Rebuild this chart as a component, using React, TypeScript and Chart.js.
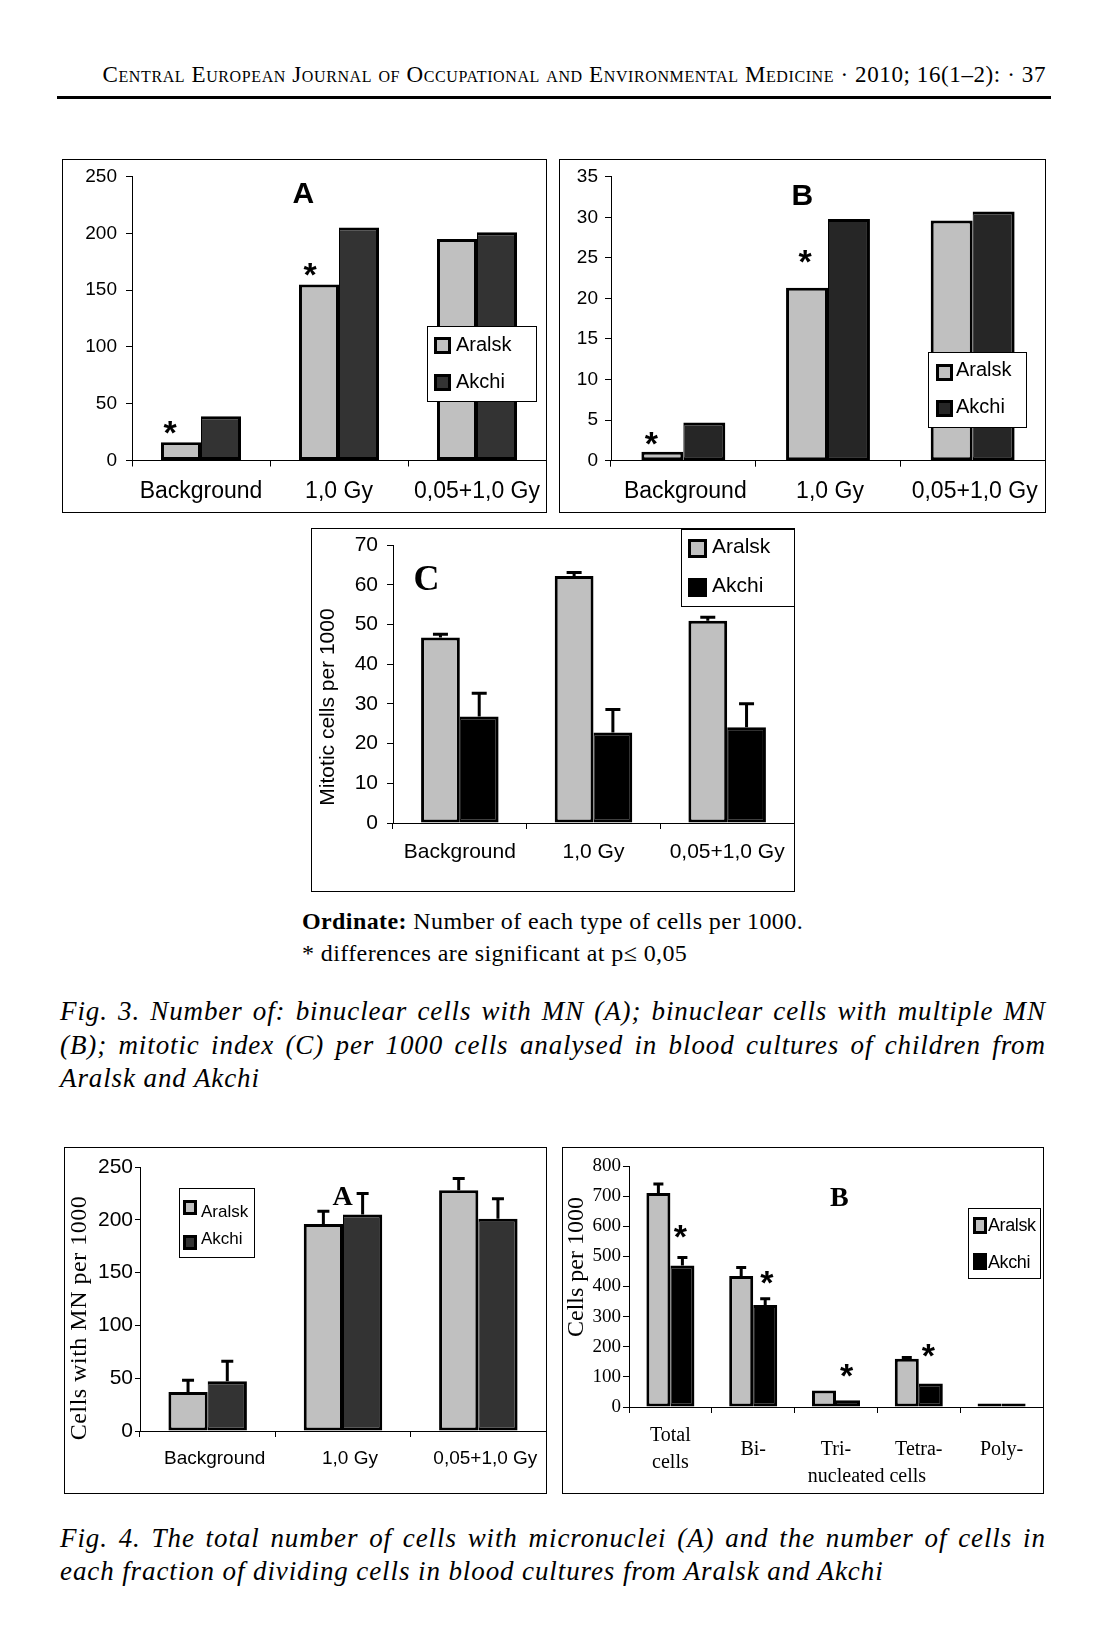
import React, { useEffect, useRef } from "react";
import { Chart, registerables } from "chart.js";

Chart.register(...registerables);
Chart.defaults.color = "#000";

const SANS = '"Liberation Sans", Arial, sans-serif';
const SERIF = '"Liberation Serif", "Times New Roman", serif';

// ---------- DATA ----------
const doseLabels = ["Background", "1,0 Gy", "0,05+1,0 Gy"];
const seriesNames = ["Aralsk", "Akchi"];

const fig3A_aralsk = [16, 155, 195];
const fig3A_akchi = [39, 205, 201];

const fig3B_aralsk = [1.1, 21.3, 29.6];
const fig3B_akchi = [4.7, 29.8, 30.7];

const fig3C_aralsk = [46.7, 62.2, 50.9];
const fig3C_akchi = [26.8, 22.8, 24.1];
const fig3C_aralskErr = [0.8, 0.9, 0.9];
const fig3C_akchiErr = [5.9, 5.8, 5.9];

const fig4A_aralsk = [37, 196, 228];
const fig4A_akchi = [47, 205, 201];
const fig4A_aralskErr = [11, 12, 11];
const fig4A_akchiErr = [19, 20, 19];

const fractionLabels: (string | string[])[] = [["Total", "cells"], "Bi-", "Tri-", "Tetra-", "Poly-"];
const fig4B_aralsk = [710, 435, 55, 160, 12];
const fig4B_akchi = [470, 339, 22, 78, 12];
const fig4B_aralskErr = [30, 28, 0, 4, 0];
const fig4B_akchiErr = [26, 20, 0, 0, 0];

// significance markers: [datasetIndex, categoryIndex]
const fig3A_stars = [[0, 0], [0, 1]];
const fig3B_stars = [[0, 0], [0, 1]];
const fig4B_stars = [[1, 0], [1, 1], [1, 2], [1, 3]];

const yTicks3A = { max: 250, step: 50 };
const yTicks3B = { max: 35, step: 5 };
const yTicks3C = { max: 70, step: 10 };
const yTicks4A = { max: 250, step: 50 };
const yTicks4B = { max: 800, step: 100 };

// ---------- STYLE / LAYOUT ----------
type Series = { label: string; data: number[]; err?: number[]; color: string; bw: any };
type Cfg = {
  box: { l: number; t: number; r: number; b: number };
  plot: { l: number; t: number; b: number };
  labels: any[];
  series: Series[];
  y: { max: number; step: number; font: string; size: number; pad: number; tick: number };
  x: { font: string; size: number; pad: number; lh?: number; offset?: number; cross?: string };
  err?: { w: number; cap: number };
  stars?: { ds: number; i: number; dx: number; dy: number }[];
  title: { text: string; x: number; y: number; font: string };
  yTitle?: { text: string; x: number; y: number; font: string; spacing?: number };
  legend: { box: number[]; font: string; spacing?: number; items: { name: string; color: string; sw: number[]; tx: number; ty: number }[] };
  extra?: { text: string; x: number; y: number; font: string }[];
};

function inkCenter(ctx: CanvasRenderingContext2D, text: string, cx: number, cy: number) {
  const m = ctx.measureText(text);
  const asc = m.actualBoundingBoxAscent;
  const desc = m.actualBoundingBoxDescent;
  const left = m.actualBoundingBoxLeft;
  const right = m.actualBoundingBoxRight;
  ctx.textAlign = "left";
  ctx.textBaseline = "alphabetic";
  ctx.fillText(text, cx - (right - left) / 2, cy + (asc - desc) / 2);
}

function decorPlugin(cfg: Cfg) {
  const ox = cfg.box.l + 1;
  const oy = cfg.box.t + 1;
  return {
    id: "decor",
    afterDatasetsDraw(chart: any) {
      const ctx: CanvasRenderingContext2D = chart.ctx;
      const ys = chart.scales.y;
      ctx.save();
      // error bars
      if (cfg.err) {
        cfg.series.forEach((s, d) => {
          if (!s.err) return;
          const meta = chart.getDatasetMeta(d);
          meta.data.forEach((el: any, i: number) => {
            const e = s.err![i];
            if (!e) return;
            const top = ys.getPixelForValue(s.data[i] + e);
            ctx.strokeStyle = "#000";
            ctx.lineWidth = cfg.err!.w;
            ctx.lineCap = "butt";
            ctx.beginPath();
            ctx.moveTo(el.x, el.y);
            ctx.lineTo(el.x, top);
            ctx.moveTo(el.x - cfg.err!.cap, top);
            ctx.lineTo(el.x + cfg.err!.cap, top);
            ctx.stroke();
          });
        });
      }
      // stars
      ctx.fillStyle = "#000";
      (cfg.stars || []).forEach((st) => {
        const s = cfg.series[st.ds];
        const el = chart.getDatasetMeta(st.ds).data[st.i];
        const v = s.data[st.i] + (s.err ? s.err[st.i] || 0 : 0);
        const yTop = ys.getPixelForValue(v);
        ctx.font = `bold 34px ${SANS}`;
        inkCenter(ctx, "*", el.x + st.dx, yTop + st.dy);
      });
      // panel title
      ctx.font = cfg.title.font;
      inkCenter(ctx, cfg.title.text, cfg.title.x - ox, cfg.title.y - oy);
      // y axis title
      if (cfg.yTitle) {
        const t = cfg.yTitle;
        ctx.save();
        ctx.translate(t.x - ox, t.y - oy);
        ctx.rotate(-Math.PI / 2);
        ctx.font = t.font;
        (ctx as any).letterSpacing = (t.spacing || 0) + "px";
        ctx.textAlign = "center";
        ctx.textBaseline = "middle";
        ctx.fillText(t.text, 0, 0);
        ctx.restore();
      }
      // extra texts
      (cfg.extra || []).forEach((t) => {
        ctx.font = t.font;
        ctx.textAlign = "center";
        ctx.textBaseline = "middle";
        ctx.fillText(t.text, t.x - ox, t.y - oy);
      });
      // legend
      const L = cfg.legend;
      const [bl, bt, br, bb] = L.box;
      ctx.fillStyle = "#fff";
      ctx.fillRect(bl - ox, bt - oy, br - bl + 1, bb - bt + 1);
      ctx.strokeStyle = "#000";
      ctx.lineWidth = 1;
      ctx.strokeRect(bl - ox + 0.5, bt - oy + 0.5, br - bl, bb - bt);
      L.items.forEach((it) => {
        const [sl, stp, sr, sb] = it.sw;
        ctx.fillStyle = "#000";
        ctx.fillRect(sl - ox, stp - oy, sr - sl, sb - stp);
        ctx.fillStyle = it.color;
        ctx.fillRect(sl - ox + 3, stp - oy + 3, sr - sl - 6, sb - stp - 6);
        ctx.fillStyle = "#000";
        ctx.font = L.font;
        (ctx as any).letterSpacing = (L.spacing || 0) + "px";
        ctx.textAlign = "left";
        ctx.textBaseline = "middle";
        ctx.fillText(it.name, it.tx - ox, it.ty - oy);
        (ctx as any).letterSpacing = "0px";
      });
      ctx.restore();
    },
  };
}

function buildConfig(cfg: Cfg): any {
  const H = cfg.box.b - cfg.box.t - 1;
  const ox = cfg.box.l + 1;
  const oy = cfg.box.t + 1;
  const yWidth = cfg.plot.l - ox;
  const padTop = cfg.plot.t - oy;
  const xHeight = oy + H - cfg.plot.b;
  return {
    type: "bar",
    data: {
      labels: cfg.labels,
      datasets: cfg.series.map((s) => ({
        label: s.label,
        data: s.data,
        backgroundColor: s.color,
        borderColor: "#000",
        borderWidth: s.bw,
        borderSkipped: false,
        categoryPercentage: 0.58,
        barPercentage: 1.0,
      })),
    },
    options: {
      responsive: false,
      animation: false,
      devicePixelRatio: 1,
      layout: { padding: { top: padTop, right: 0, bottom: 0, left: 0 } },
      plugins: { legend: { display: false }, tooltip: { enabled: false }, title: { display: false } },
      scales: {
        x: {
          type: "category",
          offset: true,
          grid: { display: true, offset: true, drawOnChartArea: false, drawTicks: true, tickLength: 6, color: "#000", lineWidth: 1 },
          border: { display: true, color: "#000", width: 1 },
          ticks: {
            color: "#000",
            maxRotation: 0,
            minRotation: 0,
            autoSkip: false,
            padding: cfg.x.pad,
            labelOffset: cfg.x.offset || 0,
            crossAlign: cfg.x.cross || "near",
            font: { family: cfg.x.font, size: cfg.x.size, lineHeight: cfg.x.lh || 1.2 },
          },
          afterFit: (s: any) => {
            s.height = xHeight;
            s.paddingLeft = 0;
            s.paddingRight = 0;
          },
        },
        y: {
          min: 0,
          max: cfg.y.max,
          grid: { display: true, drawOnChartArea: false, drawTicks: true, tickLength: cfg.y.tick, color: "#000", lineWidth: 1 },
          border: { display: true, color: "#000", width: 1 },
          ticks: {
            stepSize: cfg.y.step,
            color: "#000",
            padding: cfg.y.pad,
            font: { family: cfg.y.font, size: cfg.y.size },
          },
          afterFit: (s: any) => {
            s.width = yWidth;
            s.paddingTop = 0;
            s.paddingBottom = 0;
          },
        },
      },
    },
    plugins: [decorPlugin(cfg)],
  };
}

function Panel({ cfg }: { cfg: Cfg }) {
  const ref = useRef<HTMLCanvasElement>(null);
  const W = cfg.box.r - cfg.box.l - 1;
  const H = cfg.box.b - cfg.box.t - 1;
  useEffect(() => {
    const chart = new Chart(ref.current!, buildConfig(cfg));
    return () => chart.destroy();
  }, []);
  return (
    <div
      style={{
        position: "absolute",
        left: cfg.box.l,
        top: cfg.box.t,
        width: cfg.box.r - cfg.box.l + 1,
        height: cfg.box.b - cfg.box.t + 1,
        border: "1px solid #000",
        boxSizing: "border-box",
        background: "#fff",
      }}
    >
      <canvas ref={ref} width={W} height={H} style={{ display: "block", width: W, height: H }} />
    </div>
  );
}

const ARALSK = "#c0c0c0";
const BW_L = { top: 3, left: 3, right: 3, bottom: 3 };
const BW_R = { top: 3, left: 1, right: 3, bottom: 3 };

const cfg3A: Cfg = {
  box: { l: 62, t: 159, r: 546, b: 512 },
  plot: { l: 132, t: 176.5, b: 460.5 },
  labels: doseLabels,
  series: [
    { label: seriesNames[0], data: fig3A_aralsk, color: ARALSK, bw: BW_L },
    { label: seriesNames[1], data: fig3A_akchi, color: "#333333", bw: BW_R },
  ],
  y: { ...yTicks3A, font: SANS, size: 19, pad: 9, tick: 6 },
  x: { font: SANS, size: 23, pad: 11 },
  stars: fig3A_stars.map(([ds, i], k) => ({ ds, i, dx: [-10.4, -8.4][k], dy: [-14.7, -15][k] })),
  title: { text: "A", x: 303, y: 193, font: `bold 30px ${SANS}` },
  legend: {
    box: [427, 326, 536, 401],
    font: `20px ${SANS}`,
    items: [
      { name: seriesNames[0], color: ARALSK, sw: [434, 337, 451, 354], tx: 456, ty: 345 },
      { name: seriesNames[1], color: "#333333", sw: [434, 374, 451, 391], tx: 456, ty: 382 },
    ],
  },
};

const cfg3B: Cfg = {
  box: { l: 559, t: 159, r: 1045, b: 512 },
  plot: { l: 611, t: 176.7, b: 460.7 },
  labels: doseLabels,
  series: [
    { label: seriesNames[0], data: fig3B_aralsk, color: ARALSK, bw: BW_L },
    { label: seriesNames[1], data: fig3B_akchi, color: "#262626", bw: BW_R },
  ],
  y: { ...yTicks3B, font: SANS, size: 19, pad: 7, tick: 6 },
  x: { font: SANS, size: 23, pad: 11, offset: 2 },
  stars: fig3B_stars.map(([ds, i], k) => ({ ds, i, dx: [-10.5, -1.5][k], dy: [-13, -31][k] })),
  title: { text: "B", x: 803, y: 195, font: `bold 30px ${SANS}` },
  legend: {
    box: [928, 352, 1026, 427],
    font: `20px ${SANS}`,
    items: [
      { name: seriesNames[0], color: ARALSK, sw: [936, 364, 953, 381], tx: 956, ty: 370 },
      { name: seriesNames[1], color: "#262626", sw: [936, 400, 953, 417], tx: 956, ty: 407 },
    ],
  },
};

const cfg3C: Cfg = {
  box: { l: 311, t: 528, r: 794, b: 891 },
  plot: { l: 393, t: 545, b: 823 },
  labels: doseLabels,
  series: [
    { label: seriesNames[0], data: fig3C_aralsk, err: fig3C_aralskErr, color: ARALSK, bw: BW_L },
    { label: seriesNames[1], data: fig3C_akchi, err: fig3C_akchiErr, color: "#000000", bw: BW_R },
  ],
  y: { ...yTicks3C, font: SANS, size: 21, pad: 9, tick: 6 },
  x: { font: SANS, size: 21, pad: 11 },
  err: { w: 3, cap: 7.5 },
  title: { text: "C", x: 426, y: 578, font: `bold 36px ${SERIF}` },
  yTitle: { text: "Mitotic cells per 1000", x: 328, y: 707, font: `21px ${SANS}` },
  legend: {
    box: [681, 529, 794, 606],
    font: `21px ${SANS}`,
    items: [
      { name: seriesNames[0], color: ARALSK, sw: [688, 539, 707, 558], tx: 712, ty: 547 },
      { name: seriesNames[1], color: "#000000", sw: [688, 578, 707, 597], tx: 712, ty: 586 },
    ],
  },
};

const cfg4A: Cfg = {
  box: { l: 64, t: 1147, r: 546, b: 1493 },
  plot: { l: 140, t: 1167, b: 1431 },
  labels: doseLabels,
  series: [
    { label: seriesNames[0], data: fig4A_aralsk, err: fig4A_aralskErr, color: ARALSK, bw: BW_L },
    { label: seriesNames[1], data: fig4A_akchi, err: fig4A_akchiErr, color: "#333333", bw: BW_R },
  ],
  y: { ...yTicks4A, font: SANS, size: 21, pad: 2, tick: 5 },
  x: { font: SANS, size: 19, pad: 10, offset: 7 },
  err: { w: 3, cap: 6 },
  title: { text: "A", x: 343, y: 1196, font: `bold 28px ${SERIF}` },
  yTitle: { text: "Cells with MN per 1000", x: 80, y: 1318, font: `24px ${SERIF}`, spacing: 0.5 },
  legend: {
    box: [179, 1188, 254, 1257],
    font: `17px ${SANS}`,
    items: [
      { name: seriesNames[0], color: ARALSK, sw: [183, 1200, 197, 1215], tx: 201, ty: 1212 },
      { name: seriesNames[1], color: "#333333", sw: [183, 1235, 197, 1250], tx: 201, ty: 1239 },
    ],
  },
};

const cfg4B: Cfg = {
  box: { l: 562, t: 1147, r: 1043, b: 1493 },
  plot: { l: 629, t: 1166, b: 1407 },
  labels: fractionLabels,
  series: [
    { label: seriesNames[0], data: fig4B_aralsk, err: fig4B_aralskErr, color: ARALSK, bw: BW_L },
    { label: seriesNames[1], data: fig4B_akchi, err: fig4B_akchiErr, color: "#000000", bw: BW_R },
  ],
  y: { ...yTicks4B, font: SERIF, size: 19, pad: 2, tick: 6 },
  x: { font: SERIF, size: 20, pad: 23, lh: 1.35, cross: "center" },
  err: { w: 3, cap: 5 },
  stars: fig4B_stars.map(([ds, i], k) => ({ ds, i, dx: [-1.7, 2, -1, -2][k], dy: [-26, -21, -30, -33.5][k] })),
  title: { text: "B", x: 839, y: 1197, font: `bold 28px ${SERIF}` },
  yTitle: { text: "Cells per 1000", x: 577, y: 1267, font: `24px ${SERIF}`, spacing: 0 },
  extra: [{ text: "nucleated cells", x: 867, y: 1477, font: `20px ${SERIF}` }],
  legend: {
    box: [968, 1208, 1040, 1278],
    font: `18px ${SANS}`,
    spacing: -0.4,
    items: [
      { name: seriesNames[0], color: ARALSK, sw: [973, 1217, 987, 1234], tx: 988, ty: 1226 },
      { name: seriesNames[1], color: "#000000", sw: [973, 1253, 987, 1270], tx: 988, ty: 1263 },
    ],
  },
};

const cap3 = [
  "Fig. 3. Number of: binuclear cells with MN (A); binuclear cells with multiple MN",
  "(B); mitotic index (C) per 1000 cells analysed in blood cultures of children from",
  "Aralsk and Akchi",
];
const cap4 = [
  "Fig. 4. The total number of cells with micronuclei (A) and the number of cells in",
  "each fraction of dividing cells in blood cultures from Aralsk and Akchi",
];

function Caption({ lines, top, lh }: { lines: string[]; top: number; lh: number }) {
  return (
    <div style={{ position: "absolute", left: 60, top, width: 986, font: `italic 27px ${SERIF}`, letterSpacing: "0.9px" }}>
      {lines.map((t, i) =>
        i < lines.length - 1 ? (
          <div key={i} style={{ height: lh, lineHeight: lh + "px", display: "flex", justifyContent: "space-between", whiteSpace: "nowrap" }}>
            {t.split(" ").map((w, k) => (
              <span key={k}>{w}</span>
            ))}
          </div>
        ) : (
          <div key={i} style={{ height: lh, lineHeight: lh + "px", whiteSpace: "nowrap" }}>
            {t}
          </div>
        )
      )}
    </div>
  );
}

export default function App() {
  return (
    <div style={{ position: "absolute", left: 0, top: 0, width: 1110, height: 1631, background: "#fff", overflow: "hidden", color: "#000" }}>
      <div
        style={{
          position: "absolute",
          left: 0,
          top: 61,
          width: 1046,
          textAlign: "right",
          font: `23px ${SERIF}`,
          fontVariant: "small-caps",
          letterSpacing: "0.6px",
          lineHeight: "28px",
          whiteSpace: "nowrap",
        }}
      >
        Central European Journal of Occupational and Environmental Medicine · 2010; 16(1–2): · 37
      </div>
      <div style={{ position: "absolute", left: 57, top: 96, width: 994, height: 3, background: "#000" }} />

      <Panel cfg={cfg3A} />
      <Panel cfg={cfg3B} />
      <Panel cfg={cfg3C} />

      <div
        style={{
          position: "absolute",
          left: 302,
          top: 905,
          font: `24px ${SERIF}`,
          letterSpacing: "0.4px",
          lineHeight: "32px",
          whiteSpace: "nowrap",
        }}
      >
        <b>Ordinate:</b> Number of each type of cells per 1000.
        <br />* differences are significant at p≤ 0,05
      </div>

      <Caption lines={cap3} top={995} lh={33.5} />

      <Panel cfg={cfg4A} />
      <Panel cfg={cfg4B} />

      <Caption lines={cap4} top={1521.5} lh={33.5} />
    </div>
  );
}
